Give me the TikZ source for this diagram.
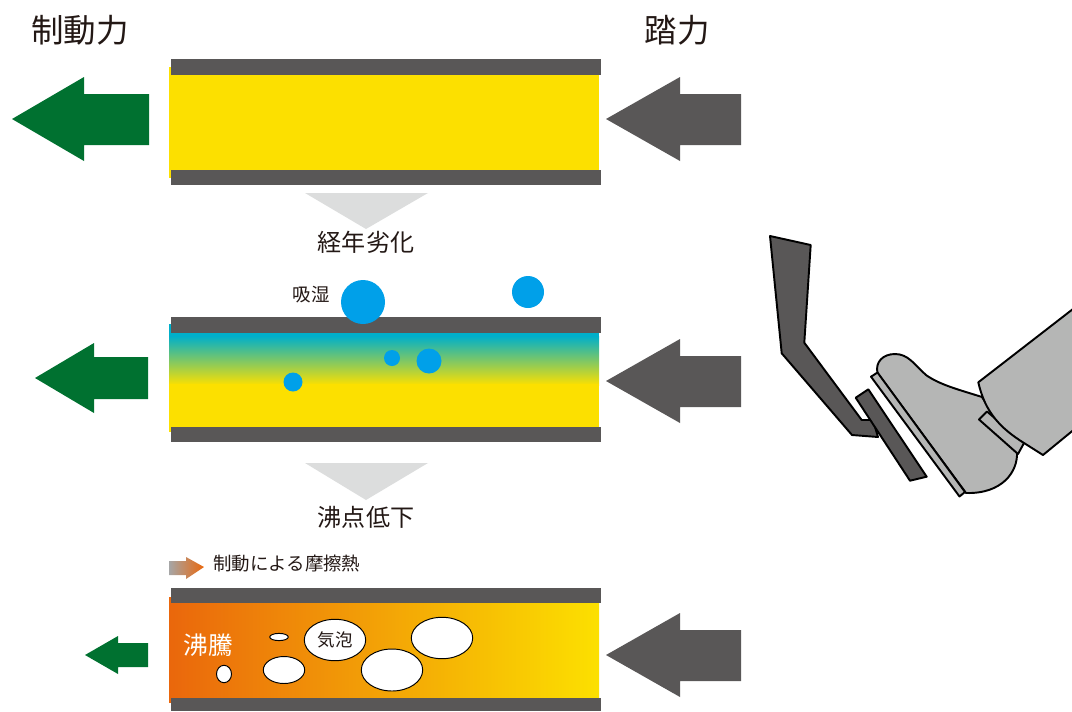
\documentclass[tikz,border=0pt]{standalone}
\usepackage{xcolor}
\usepackage{fontspec}
\usepackage{tikz}
\usetikzlibrary{
  positioning,
  calc
}
\newfontfamily\jpfont{Noto Sans CJK JP}

\definecolor{cinzatubo}{HTML}{595757}
\definecolor{amarelofluido}{HTML}{FCE000}
\definecolor{verdefreio}{HTML}{007130}
\definecolor{azulagua}{HTML}{00A0E9}
\definecolor{cianoumido}{HTML}{00AFCA}
\definecolor{verdeumido}{HTML}{A6C68A}
\definecolor{cinzaclaro}{HTML}{DCDDDD}
\definecolor{cinzasapato}{HTML}{B5B6B5}
\definecolor{laranjaquente}{HTML}{EA670C}
\definecolor{laranjamedio}{HTML}{F4A000}
\definecolor{textoescuro}{HTML}{231815}

\begin{document}
\begin{tikzpicture}[
        x=0.02cm, y=-0.02cm,
        every node/.style={inner sep=0pt, text=textoescuro},
        rotulo/.style={font=\jpfont\fontsize{#1}{#1}\selectfont},
        parede/.style={fill=cinzatubo},
        gota/.style={fill=azulagua},
        bolha/.style={draw=black, line width=0.55pt, fill=white},
        etapa/.style={fill=cinzaclaro},
        contorno/.style={draw=black, line width=1.1pt, line join=round}
    ]
        \useasboundingbox (0,0) rectangle (1072,711);

        % Títulos das forças
        \node[rotulo=18.5pt] (freio) at (80,30) {制動力};
        \node[rotulo=18.5pt] (pedal) at (677,30) {踏力};

        % Tubo 1: fluido novo
        \fill[amarelofluido] (169,67) rectangle (599,178);
        \fill[parede] (171,59) rectangle (601,75);
        \fill[parede] (171,170) rectangle (601,185);

        % Tubo 2: fluido com umidade
        \fill[cianoumido] (169,324) rectangle (599,337);
        \shade[top color=cianoumido, middle color=verdeumido, bottom color=amarelofluido] (169,336) rectangle (599,385);
        \fill[amarelofluido] (169,384) rectangle (599,432);
        \fill[parede] (171,317) rectangle (601,333);
        \fill[parede] (171,427) rectangle (601,442);
        \fill[gota] (363,302) circle (22);
        \fill[gota] (528,292) circle (16);
        \fill[gota] (392,358) circle (8);
        \fill[gota] (429,361) circle (12.5);
        \fill[gota] (293,382) circle (9.5);
        \node[rotulo=10.5pt] (umidade) at (311,295) {吸湿};

        % Tubo 3: fluido em ebulição
        \shade[left color=laranjaquente, middle color=laranjamedio, right color=amarelofluido]
            (169,597) rectangle (599,702);
        \fill[parede] (171,588) rectangle (601,603);
        \fill[parede] (171,698) rectangle (601,711);
        \node[rotulo=14pt, text=white] (fervura) at (208,645) {沸騰};
        \draw[bolha] (224,674) ellipse [x radius=7.5, y radius=8.7];
        \draw[bolha] (279,637) ellipse [x radius=9.3, y radius=3.6];
        \draw[bolha] (284,670) ellipse [x radius=20.7, y radius=13.5];
        \draw[bolha] (335,640) ellipse [x radius=30.7, y radius=20.7];
        \draw[bolha] (392,670) ellipse [x radius=30.7, y radius=21];
        \draw[bolha] (442,638) ellipse [x radius=30.7, y radius=20.7];
        \node[rotulo=10pt] (vapor) at (335,640) {気泡};

        % Calor de atrito
        \shade[left color=gray!70, right color=laranjaquente]
            (169,561) -- (186,561) -- (186,557) -- (204,567) -- (186,579) -- (186,575) -- (169,575) -- cycle;
        \node[rotulo=10.5pt, anchor=west] (atrito) at (213,564) {制動による摩擦熱};

        % Setas de etapa
        \fill[etapa] (305,193) -- (428,193) -- (366,229) -- cycle;
        \node[rotulo=13.7pt] (envelhecimento) at (366,242) {経年劣化};
        \fill[etapa] (305,463) -- (428,463) -- (366,500) -- cycle;
        \node[rotulo=13.7pt] (ebulicao) at (366,517) {沸点低下};

        % Setas de força de frenagem
        \fill[verdefreio] (12,119) -- (84,77) -- (84,94) -- (149,94) -- (149,145) -- (84,145) -- (84,161) -- cycle;
        \fill[verdefreio] (35,378) -- (94,343) -- (94,357) -- (148,357) -- (148,399) -- (94,399) -- (94,413) -- cycle;
        \fill[verdefreio] (85,655) -- (118,636) -- (118,643) -- (148,643) -- (148,667) -- (118,667) -- (118,674) -- cycle;

        % Setas de força no pedal
        \foreach \y in {119,381,655}
            \fill[cinzatubo] (606,\y) -- (680,\y-42) -- (680,\y-25) -- (741,\y-25)
                -- (741,\y+26) -- (680,\y+26) -- (680,\y+42) -- cycle;

        % Pedal
        \path[contorno, fill=cinzatubo] (770,236) -- (810.7,245) -- (804.3,342.7) -- (861.7,420)
            -- (873,420) -- (878,437) -- (852,435) -- (781.7,353.3) -- cycle;
        \path[contorno, fill=cinzatubo] (855.7,397.7) -- (868.3,389.3) -- (926.7,476.7) -- (910,480.7) -- cycle;

        % Sapato e perna
        \begin{scope}
            \clip (0,0) rectangle (1072,711);
            \path[contorno, fill=cinzasapato] (877.5,373)
                .. controls (875,362) and (883,354) .. (895,354)
                .. controls (908,354) and (914,364) .. (926,375)
                .. controls (940,385) and (960,390) .. (982,397)
                -- (1017,452)
                .. controls (1018,472) and (1002,494) .. (966,493) -- cycle;
            \path[contorno, fill=cinzasapato] (871,376.7) -- (877.5,372.5) -- (965,492) -- (959.5,496.5) -- cycle;
            \path[contorno, fill=cinzasapato] (979,419.5) -- (987,411.5) -- (1024,443) -- (1018,454) -- cycle;
            \path[contorno, fill=cinzasapato] (978.3,382.3) -- (1082,302) -- (1082,423) -- (1043,455)
                -- (1024,443) .. controls (1000,428) and (985,412) .. (978.3,382.3) -- cycle;
        \end{scope}
\end{tikzpicture}
\end{document}
